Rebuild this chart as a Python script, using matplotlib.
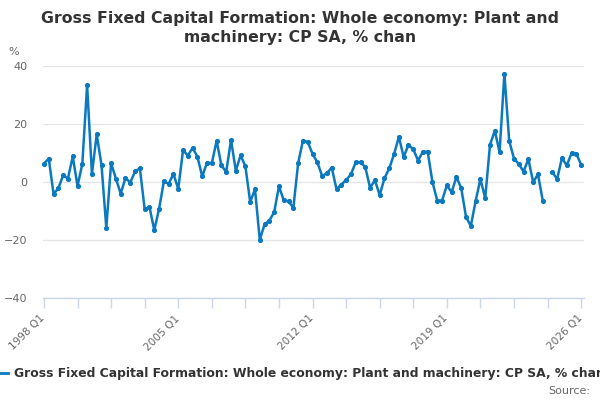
import numpy as np
import matplotlib
matplotlib.use("Agg")
import matplotlib.pyplot as plt
import matplotlib.transforms as mtransforms
from matplotlib.lines import Line2D
from matplotlib.ticker import FixedLocator

# ---- data ----
start_year = 1998
n_quarters = 113  # 1998 Q1 .. 2026 Q1
quarters = [f"{start_year + i // 4} Q{i % 4 + 1}" for i in range(n_quarters)]

values = [
    6.3, 8.1, -4.1, -2.2, 2.3, 1.2, 8.8, -1.4,        # 1998-1999
    6.3, 33.4, 2.8, 16.4, 5.8, -15.8, 6.5, 1.2,       # 2000-2001
    -4.0, 1.4, -0.2, 3.7, 4.7, -9.4, -8.6, -16.6,     # 2002-2003
    -9.3, 0.2, -0.6, 2.8, -2.4, 11.0, 9.1, 11.8,      # 2004-2005
    8.7, 1.9, 6.7, 6.5, 14.2, 5.7, 3.5, 14.5,         # 2006-2007
    3.9, 9.2, 5.4, -6.9, -2.5, -19.9, -14.6, -13.3,   # 2008-2009
    -10.4, -1.5, -6.3, -6.7, -8.9, 6.5, 14.3, 13.8,   # 2010-2011
    9.7, 6.8, 2.1, 3.0, 5.0, -2.5, -0.9, 0.7,         # 2012-2013
    2.6, 6.8, 6.8, 5.1, -2.0, 0.6, -4.5, 1.3,         # 2014-2015
    4.7, 9.6, 15.6, 8.6, 12.8, 11.3, 7.4, 10.4,       # 2016-2017
    10.5, 0.0, -6.4, -6.4, -1.2, -3.5, 1.7, -2.1,     # 2018-2019
    -12.0, -15.2, -6.6, 1.0, -5.6, 12.8, 17.7, 10.3,  # 2020-2021
    37.4, 14.2, 8.1, 6.2, 3.6, 7.9, -0.1, 2.7,        # 2022-2023
    -6.4, None, 3.4, 1.0, 8.3, 5.7, 9.9, 9.7,         # 2024-2025
    6.0,                                              # 2026 Q1
]

tick_label_every = 28
minor_tick_every = 7
y_ticks = [-40, -20, 0, 20, 40]

title = "Gross Fixed Capital Formation: Whole economy: Plant and\nmachinery: CP SA, % chan"
series_name = "Gross Fixed Capital Formation: Whole economy: Plant and machinery: CP SA, % chan"

# ---- styling ----
blue = "#0a79c0"
grid_c = "#e6e6e6"
axis_c = "#ccd6eb"
label_c = "#666666"
title_c = "#333333"

fig = plt.figure(figsize=(6, 4), dpi=100)
ax = fig.add_axes([43 / 600, 1 - 298 / 400, (584 - 43) / 600, (298 - 66) / 400])

x = np.arange(n_quarters)
y = np.array([np.nan if v is None else v for v in values], dtype=float)
ax.plot(x, y, color=blue, lw=1.8, marker="o", ms=2.7, mec=blue, mfc=blue,
        solid_joinstyle="round", zorder=3, clip_on=False)

ax.set_xlim(-0.2, 112.6)
ax.set_ylim(-40, 40)

ax.set_yticks(y_ticks)
ax.yaxis.grid(True, color=grid_c, lw=1)
ax.set_axisbelow(True)
ax.tick_params(axis="y", length=0, pad=11, labelsize=8, labelcolor=label_c)

major = list(range(0, n_quarters, tick_label_every))
ax.xaxis.set_major_locator(FixedLocator(major))
ax.set_xticklabels([quarters[i] for i in major], rotation=45, ha="right", va="top")
ax.xaxis.set_minor_locator(FixedLocator(list(range(0, n_quarters, minor_tick_every))))
ax.tick_params(axis="x", which="both", length=7, width=1, color=axis_c, direction="out")
ax.tick_params(axis="x", which="major", pad=4, labelsize=7.6, labelcolor=label_c)
offset = mtransforms.ScaledTranslation(3 / 100, 0, fig.dpi_scale_trans)
for lab in ax.get_xticklabels():
    lab.set_transform(lab.get_transform() + offset)

for s in ["top", "right", "left"]:
    ax.spines[s].set_visible(False)
ax.spines["bottom"].set_color(axis_c)
ax.spines["bottom"].set_linewidth(1)

fig.text(0.5, 1 - 11 / 400, title, ha="center", va="top", fontsize=11.3,
         fontweight="bold", color=title_c, linespacing=1.3)
fig.text(14 / 600, 1 - 52 / 400, "%", ha="center", va="center", fontsize=8, color=label_c)

handle = Line2D([], [], color=blue, lw=2)
fig.legend(handles=[handle], labels=[series_name], loc="center left",
           bbox_to_anchor=(-10.6 / 600, 1 - 374 / 400), frameon=False,
           handlelength=1.5, handletextpad=0.5, borderpad=0, borderaxespad=0,
           prop={"size": 8.9, "weight": "bold"}, labelcolor=title_c)
fig.text(590 / 600, 1 - 391 / 400, "Source:", ha="right", va="center", fontsize=8, color=label_c)

fig.savefig("out.png", dpi=100)
